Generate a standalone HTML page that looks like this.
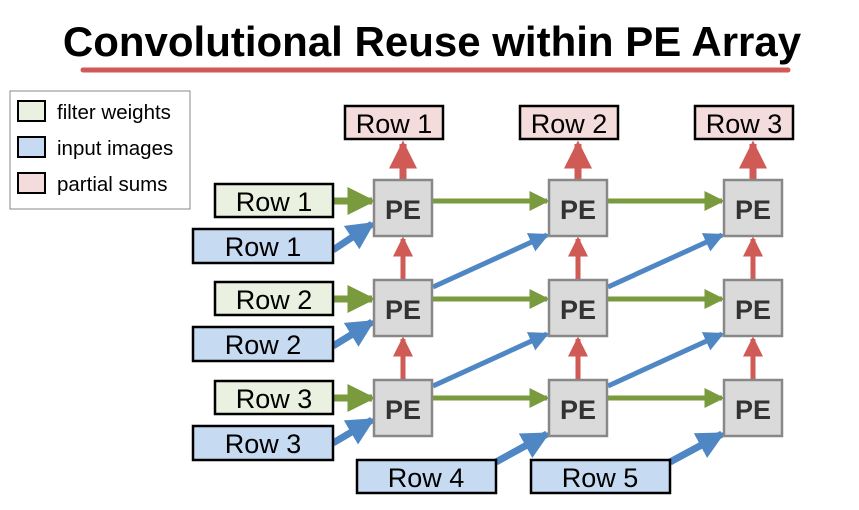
<!DOCTYPE html>
<html><head><style>
body{margin:0;width:859px;height:505px;background:#fff;overflow:hidden}
text{font-family:"Liberation Sans",sans-serif}
</style></head><body>
<svg width="859" height="505" viewBox="0 0 859 505">
<defs>
<marker id="g" markerWidth="4" markerHeight="4" refX="3.5" refY="2" orient="auto" markerUnits="strokeWidth"><path d="M0,0L4,2L0,4z" fill="#7a9a3e"/></marker>
<marker id="b" markerWidth="4" markerHeight="4" refX="3.5" refY="2" orient="auto" markerUnits="strokeWidth"><path d="M0,0L4,2L0,4z" fill="#4f87c4"/></marker>
<marker id="r" markerWidth="4" markerHeight="4" refX="3.5" refY="2" orient="auto" markerUnits="strokeWidth"><path d="M0,0L4,2L0,4z" fill="#cf5a56"/></marker>
</defs>
<text x="432" y="56" font-size="42" font-weight="bold" text-anchor="middle">Convolutional Reuse within PE Array</text>
<line x1="83" y1="70" x2="788" y2="70" stroke="#cf5a56" stroke-width="5" stroke-linecap="round"/>
<rect x="10" y="91" width="180" height="118" fill="#fff" stroke="#888" stroke-width="1"/>
<rect x="18" y="101" width="27" height="20" fill="#ebf1e0" stroke="#000" stroke-width="2"/>
<rect x="18" y="137" width="27" height="20" fill="#c6dbf1" stroke="#000" stroke-width="2"/>
<rect x="18" y="173" width="27" height="20" fill="#f4dcdc" stroke="#000" stroke-width="2"/>
<text x="57" y="119" font-size="20.5">filter weights</text>
<text x="57" y="155" font-size="20.5">input images</text>
<text x="57" y="191" font-size="20.5">partial sums</text>
<g stroke-width="5" fill="none">
<line x1="403" y1="180" x2="403" y2="144" stroke="#cf5a56" stroke-width="7" marker-end="url(#r)"/>
<line x1="578" y1="180" x2="578" y2="144" stroke="#cf5a56" stroke-width="7" marker-end="url(#r)"/>
<line x1="753" y1="180" x2="753" y2="144" stroke="#cf5a56" stroke-width="7" marker-end="url(#r)"/>
<line x1="403" y1="280" x2="403" y2="239" stroke="#cf5a56" marker-end="url(#r)"/>
<line x1="578" y1="280" x2="578" y2="239" stroke="#cf5a56" marker-end="url(#r)"/>
<line x1="753" y1="280" x2="753" y2="239" stroke="#cf5a56" marker-end="url(#r)"/>
<line x1="403" y1="380" x2="403" y2="339" stroke="#cf5a56" marker-end="url(#r)"/>
<line x1="578" y1="380" x2="578" y2="339" stroke="#cf5a56" marker-end="url(#r)"/>
<line x1="753" y1="380" x2="753" y2="339" stroke="#cf5a56" marker-end="url(#r)"/>
<line x1="333" y1="201" x2="372" y2="201" stroke="#7a9a3e" stroke-width="7" marker-end="url(#g)"/>
<line x1="333" y1="299" x2="372" y2="299" stroke="#7a9a3e" stroke-width="7" marker-end="url(#g)"/>
<line x1="333" y1="398" x2="372" y2="398" stroke="#7a9a3e" stroke-width="7" marker-end="url(#g)"/>
<line x1="433" y1="201" x2="547" y2="201" stroke="#7a9a3e" marker-end="url(#g)"/>
<line x1="608" y1="201" x2="722" y2="201" stroke="#7a9a3e" marker-end="url(#g)"/>
<line x1="433" y1="299" x2="547" y2="299" stroke="#7a9a3e" marker-end="url(#g)"/>
<line x1="608" y1="299" x2="722" y2="299" stroke="#7a9a3e" marker-end="url(#g)"/>
<line x1="433" y1="398" x2="547" y2="398" stroke="#7a9a3e" marker-end="url(#g)"/>
<line x1="608" y1="398" x2="722" y2="398" stroke="#7a9a3e" marker-end="url(#g)"/>
<line x1="333" y1="250" x2="372" y2="224" stroke="#4f87c4" stroke-width="7" marker-end="url(#b)"/>
<line x1="333" y1="346" x2="372" y2="322" stroke="#4f87c4" stroke-width="7" marker-end="url(#b)"/>
<line x1="333" y1="443" x2="372" y2="420" stroke="#4f87c4" stroke-width="7" marker-end="url(#b)"/>
<line x1="496" y1="462" x2="547" y2="434" stroke="#4f87c4" stroke-width="7" marker-end="url(#b)"/>
<line x1="670" y1="462" x2="722" y2="434" stroke="#4f87c4" stroke-width="7" marker-end="url(#b)"/>
<line x1="433" y1="287" x2="547" y2="235" stroke="#4f87c4" marker-end="url(#b)"/>
<line x1="608" y1="287" x2="722" y2="235" stroke="#4f87c4" marker-end="url(#b)"/>
<line x1="433" y1="386" x2="547" y2="334" stroke="#4f87c4" marker-end="url(#b)"/>
<line x1="608" y1="386" x2="722" y2="334" stroke="#4f87c4" marker-end="url(#b)"/>
</g>
<g fill="#dadada" stroke="#888" stroke-width="2.5">
<rect x="374" y="180" width="58" height="56"/><rect x="549" y="180" width="58" height="56"/><rect x="724" y="180" width="58" height="56"/>
<rect x="374" y="280" width="58" height="56"/><rect x="549" y="280" width="58" height="56"/><rect x="724" y="280" width="58" height="56"/>
<rect x="374" y="380" width="58" height="56"/><rect x="549" y="380" width="58" height="56"/><rect x="724" y="380" width="58" height="56"/>
</g>
<g font-size="27" font-weight="bold" fill="#333" text-anchor="middle">
<text x="403" y="219">PE</text><text x="578" y="219">PE</text><text x="753" y="219">PE</text>
<text x="403" y="319">PE</text><text x="578" y="319">PE</text><text x="753" y="319">PE</text>
<text x="403" y="419">PE</text><text x="578" y="419">PE</text><text x="753" y="419">PE</text>
</g>
<g stroke="#000" stroke-width="2.5">
<rect x="345" y="106" width="98" height="33" fill="#f4dcdc"/>
<rect x="520" y="106" width="98" height="33" fill="#f4dcdc"/>
<rect x="695" y="106" width="98" height="33" fill="#f4dcdc"/>
<rect x="215" y="184" width="118" height="33" fill="#ebf1e0"/>
<rect x="215" y="282" width="118" height="33" fill="#ebf1e0"/>
<rect x="215" y="381" width="118" height="33" fill="#ebf1e0"/>
<rect x="193" y="229" width="140" height="34" fill="#c6dbf1"/>
<rect x="193" y="327" width="140" height="34" fill="#c6dbf1"/>
<rect x="193" y="426" width="140" height="34" fill="#c6dbf1"/>
<rect x="357" y="460" width="139" height="33" fill="#c6dbf1"/>
<rect x="531" y="460" width="139" height="33" fill="#c6dbf1"/>
</g>
<g font-size="27" text-anchor="middle">
<text x="394" y="133">Row 1</text><text x="569" y="133">Row 2</text><text x="744" y="133">Row 3</text>
<text x="274" y="211">Row 1</text><text x="274" y="309">Row 2</text><text x="274" y="408">Row 3</text>
<text x="263" y="256">Row 1</text><text x="263" y="354">Row 2</text><text x="263" y="453">Row 3</text>
<text x="426" y="487">Row 4</text><text x="600" y="487">Row 5</text>
</g>
</svg>
</body></html>
